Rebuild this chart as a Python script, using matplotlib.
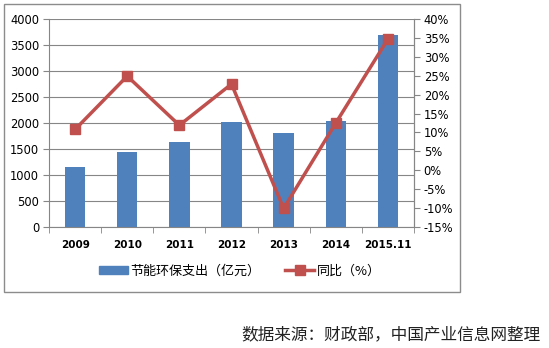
import matplotlib
matplotlib.use("Agg")
import matplotlib.pyplot as plt
from matplotlib.patches import Rectangle, Patch
from matplotlib.lines import Line2D
from matplotlib.ticker import FuncFormatter

plt.rcParams['font.family'] = ['Noto Sans CJK SC', 'DejaVu Sans']

categories = ["2009", "2010", "2011", "2012", "2013", "2014", "2015.11"]
spending = [1150, 1440, 1635, 2010, 1805, 2035, 3695]
yoy = [10.8, 24.9, 11.9, 22.8, -10.1, 12.5, 34.7]

bar_color = "#4F81BD"
line_color = "#C0504D"
grid_color = "#868686"

fig = plt.figure(figsize=(5.49, 3.48), dpi=100)
fig.patch.set_facecolor("white")

# outer chart border
fig.add_artist(Rectangle((4/549, 1 - 292/348), 456/549, 288/348, transform=fig.transFigure,
                         fill=False, edgecolor="#8C8C8C", linewidth=1.0))

ax = fig.add_axes([49/549, 1 - 227/348, 365/549, 208/348])
x = list(range(len(categories)))
ax.bar(x, spending, width=0.39, color=bar_color, zorder=2)
ax.set_xlim(-0.5, len(categories) - 0.5)
ax.set_ylim(0, 4000)
ax.set_yticks(range(0, 4001, 500))
ax.yaxis.grid(True, color=grid_color, linewidth=0.8, zorder=0)
ax.set_axisbelow(True)
ax.set_xticks(x)
ax.set_xticklabels(categories, fontsize=7.5, fontweight="semibold", family="DejaVu Sans")
ax.tick_params(axis="x", length=0, pad=9)
# category boundary ticks
ax.set_xticks([i - 0.5 for i in range(len(categories) + 1)], minor=True)
ax.tick_params(axis="x", which="minor", length=4, color=grid_color, direction="out")
ax.tick_params(axis="y", labelsize=8.3, length=4, color=grid_color, direction="out", pad=3)
for lab in ax.get_yticklabels():
    lab.set_family("DejaVu Sans")
ax.spines["top"].set_visible(False)
for s in ["left", "bottom", "right"]:
    ax.spines[s].set_color(grid_color)
    ax.spines[s].set_linewidth(0.8)

ax2 = ax.twinx()
ax2.plot(x, yoy, color=line_color, linewidth=2.5, marker="s", markersize=7,
         markerfacecolor=line_color, markeredgecolor=line_color, zorder=3)
ax2.set_ylim(-15, 40)
ax2.set_yticks(range(-15, 41, 5))
ax2.yaxis.set_major_formatter(FuncFormatter(lambda v, p: f"{int(v)}%"))
ax2.tick_params(axis="y", labelsize=8.3, length=4, color=grid_color, direction="out", pad=3)
for lab in ax2.get_yticklabels():
    lab.set_family("DejaVu Sans")
for s in ["top", "left", "bottom"]:
    ax2.spines[s].set_visible(False)
ax2.spines["right"].set_color(grid_color)
ax2.spines["right"].set_linewidth(0.8)

handles = [Patch(facecolor=bar_color, edgecolor=bar_color),
           Line2D([0], [0], color=line_color, linewidth=2.5, marker="s", markersize=7)]
fig.legend(handles, ["节能环保支出（亿元）", "同比（%）"], loc="center",
           bbox_to_anchor=(240/549, 1 - 271/348), ncol=2, frameon=False,
           fontsize=9.4, handlelength=2.2, handletextpad=0.2, columnspacing=1.9,
           handleheight=0.55)

fig.text(541/549, 1 - 335/348, "数据来源：财政部，中国产业信息网整理", ha="right", va="center",
         fontsize=12, color="#222222")

fig.savefig("out.png", dpi=100)
